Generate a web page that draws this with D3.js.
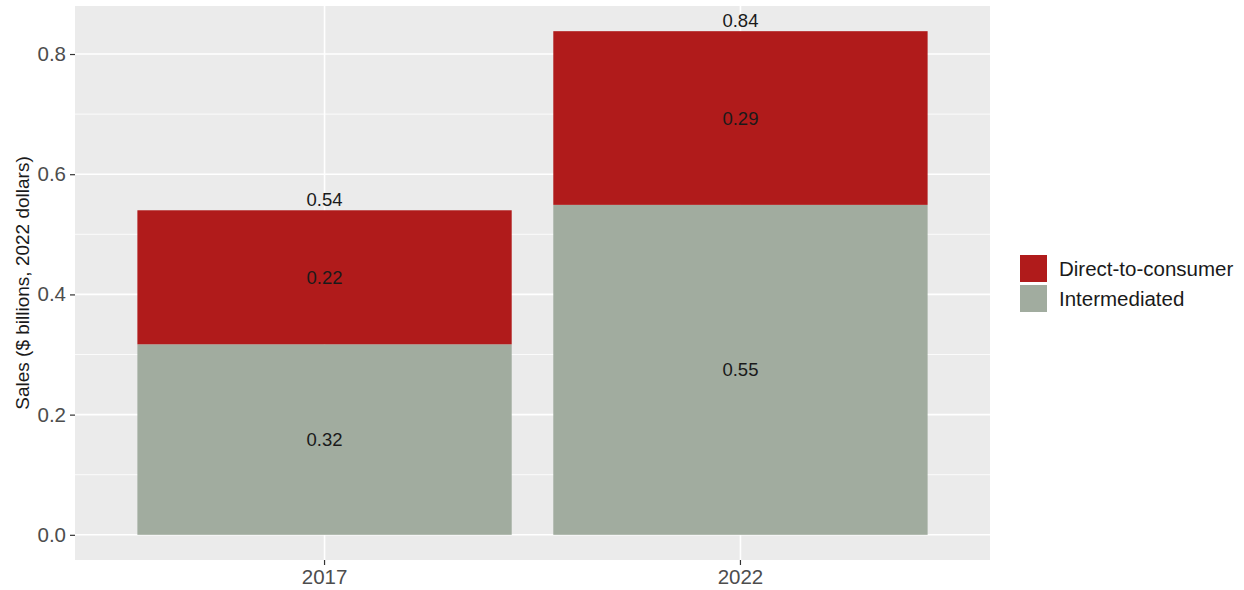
<!DOCTYPE html>
<html><head><meta charset="utf-8">
<script src="https://cdn.jsdelivr.net/npm/d3@7"></script>
<style>body{margin:0;background:#fff}svg{display:block}text{font-family:"Liberation Sans",Arial,sans-serif}</style>
</head><body><svg id="c" width="1244" height="590"></svg>
<script>
const years = ["2017", "2022"];
const intermediated = [0.317, 0.549];
const directToConsumer = [0.223, 0.289];
const seriesNames = ["Direct-to-consumer", "Intermediated"];
const seriesColors = ["#B01B1B", "#A1AC9F"];
const yTicks = [0.0, 0.2, 0.4, 0.6, 0.8];
const yMinor = [0.1, 0.3, 0.5, 0.7];

const FONT = '"Liberation Sans",Arial,sans-serif';
const svg = d3.select("#c");
const L = 75, R = 990, T = 6, B = 560;
const totals = years.map((y, i) => intermediated[i] + directToConsumer[i]);
const maxT = d3.max(totals);
const y = d3.scaleLinear().domain([-0.05 * maxT, maxT * 1.05]).range([B, T]);
const x = d3.scaleBand().domain(years).range([L, R]).paddingInner(0.1).paddingOuter(0.15);

svg.append("rect").attr("x", L).attr("y", T).attr("width", R - L).attr("height", B - T).attr("fill", "#EBEBEB");
const g = svg.append("g");
yMinor.forEach(v => g.append("line").attr("x1", L).attr("x2", R).attr("y1", y(v)).attr("y2", y(v)).attr("stroke", "#fff").attr("stroke-width", 0.8));
yTicks.forEach(v => g.append("line").attr("x1", L).attr("x2", R).attr("y1", y(v)).attr("y2", y(v)).attr("stroke", "#fff").attr("stroke-width", 1.6));
years.forEach(yr => {
  const cx = x(yr) + x.bandwidth() / 2;
  g.append("line").attr("x1", cx).attr("x2", cx).attr("y1", T).attr("y2", B).attr("stroke", "#fff").attr("stroke-width", 1.6);
});

// bars
years.forEach((yr, i) => {
  const segs = [
    {v0: 0, v1: intermediated[i], c: seriesColors[1], lab: intermediated[i]},
    {v0: intermediated[i], v1: totals[i], c: seriesColors[0], lab: directToConsumer[i]}
  ];
  segs.forEach(s => {
    svg.append("rect").attr("x", x(yr)).attr("width", x.bandwidth())
      .attr("y", y(s.v1)).attr("height", y(s.v0) - y(s.v1)).attr("fill", s.c);
    svg.append("text").attr("x", x(yr) + x.bandwidth() / 2).attr("y", y((s.v0 + s.v1) / 2))
      .attr("dy", "0.35em").attr("text-anchor", "middle").attr("font-size", 18.5).attr("fill", "#1a1a1a")
      .text(d3.format(".2f")(s.lab));
  });
  svg.append("text").attr("x", x(yr) + x.bandwidth() / 2).attr("y", y(totals[i]) - 4)
    .attr("text-anchor", "middle").attr("font-size", 18.5).attr("fill", "#1a1a1a")
    .text(d3.format(".2f")(totals[i]));
});

// y axis
const ya = svg.append("g").attr("transform", `translate(${L},0)`)
  .call(d3.axisLeft(y).tickValues(yTicks).tickFormat(d3.format(".1f")).tickSize(5).tickPadding(4));
ya.select(".domain").remove();
ya.selectAll("line").attr("stroke", "#333").attr("stroke-width", 1.2);
ya.selectAll("text").attr("font-size", 20.5).attr("fill", "#4D4D4D").style("font-family", FONT);

// x axis
const xa = svg.append("g").attr("transform", `translate(0,${B})`)
  .call(d3.axisBottom(x).tickSize(5).tickPadding(4));
xa.select(".domain").remove();
xa.selectAll("line").attr("stroke", "#333").attr("stroke-width", 1.2);
xa.selectAll("text").attr("font-size", 20.5).attr("fill", "#4D4D4D").style("font-family", FONT);

// y title
svg.append("text").attr("transform", `translate(29,${(T + B) / 2}) rotate(-90)`)
  .attr("text-anchor", "middle").attr("font-size", 19).attr("fill", "#1a1a1a")
  .text("Sales ($ billions, 2022 dollars)");

// legend
seriesNames.forEach((n, i) => {
  const ly = 255 + i * 30;
  svg.append("rect").attr("x", 1020).attr("y", ly).attr("width", 27).attr("height", 27).attr("fill", seriesColors[i]);
  svg.append("text").attr("x", 1059).attr("y", ly + 13.5).attr("dy", "0.35em").attr("font-size", 20.5).attr("fill", "#1a1a1a").text(n);
});
</script></body></html>
